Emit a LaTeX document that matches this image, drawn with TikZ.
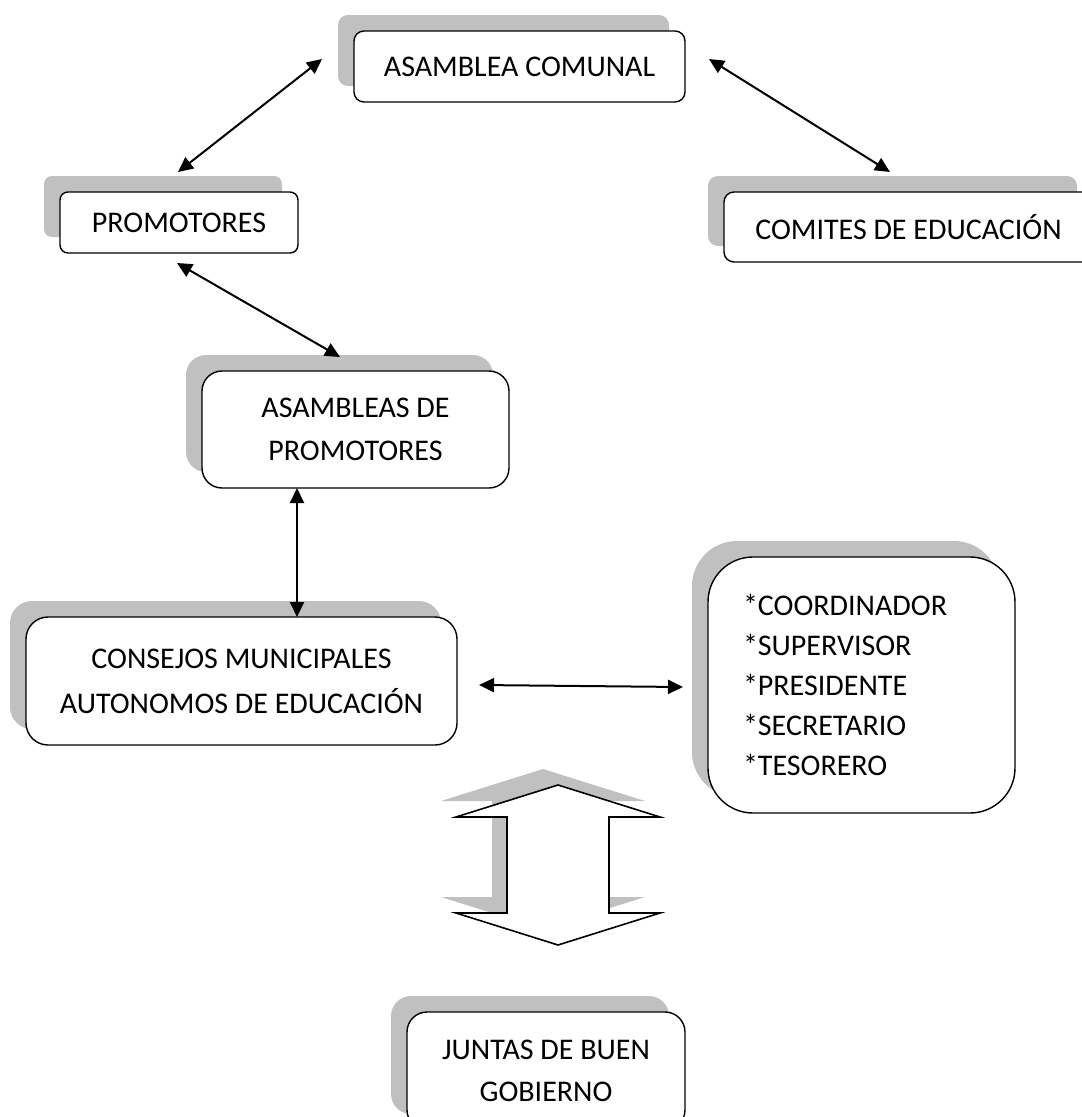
\documentclass[tikz,border=0pt]{standalone}
\usepackage{fontspec}
\setmainfont{Carlito}
\usetikzlibrary{arrows.meta,shadows}
\definecolor{shadowgray}{RGB}{192,192,192}
\begin{document}
\begin{tikzpicture}[x=1pt,y=-1pt,
  box/.style={draw=black, line width=1.4pt, fill=white, rounded corners=#1,
    align=center, inner sep=0pt,
    font=\fontsize{30}{43}\selectfont,
    copy shadow={shadow xshift=-16pt, shadow yshift=16pt, fill=shadowgray, draw=none, opacity=1}},
  box/.default=10pt,
  biarrow/.style={{Triangle[length=15pt,width=14pt]}-{Triangle[length=15pt,width=14pt]}, line width=2pt},
]
\useasboundingbox (0,0) rectangle (1082,1117);

% boxes
\node[box=10pt, minimum width=331pt, minimum height=71pt] (ac) at (519.5,66.5) {ASAMBLEA COMUNAL};
\node[box=8pt, minimum width=238pt, minimum height=61pt] (prom) at (179,222.5) {PROMOTORES};
\node[box=10pt, minimum width=369pt, minimum height=70pt] (com) at (908.5,227) {COMITES DE EDUCACIÓN};
\node[box=20pt, minimum width=307pt, minimum height=117pt] (asp) at (355.5,429.5) {ASAMBLEAS DE\\PROMOTORES};
\node[box=22pt, minimum width=431pt, minimum height=128pt, font=\fontsize{30}{45}\selectfont] (cons) at (241.5,681) {CONSEJOS MUNICIPALES\\AUTONOMOS DE EDUCACIÓN};
\node[box=45pt, minimum height=256pt, text width=237pt, inner xsep=35pt, align=left,
      font=\fontsize{30}{40}\selectfont] (cargos) at (861.5,685)
  {*COORDINADOR\\{}*SUPERVISOR\\{}*PRESIDENTE\\{}*SECRETARIO\\{}*TESORERO};
\node[box=20pt, minimum width=278pt, minimum height=118pt, font=\fontsize{30}{42}\selectfont] (jbg) at (546,1071) {JUNTAS DE BUEN\\GOBIERNO};

% arrow end points
\coordinate (ac-l) at (322,59);
\coordinate (prom-t) at (178,172);
\coordinate (ac-r) at (709,59);
\coordinate (com-t) at (890,172);
\coordinate (prom-b) at (177,263);
\coordinate (asp-t) at (340,357);
\coordinate (asp-b) at (297,488);
\coordinate (cons-t) at (297,617);
\coordinate (cons-r) at (479,685);
\coordinate (cargos-l) at (683,687);

\draw[biarrow] (ac-l) -- (prom-t);
\draw[biarrow] (ac-r) -- (com-t);
\draw[biarrow] (prom-b) -- (asp-t);
\draw[biarrow] (asp-b) -- (cons-t);
\draw[biarrow] (cons-r) -- (cargos-l);

% big double arrow (with shadow)
\fill[shadowgray, shift={(-15,-16)}]
  (558,785) -- (660,817) -- (609,817) -- (609,913) -- (660,913) -- (558,945)
  -- (456,913) -- (507,913) -- (507,817) -- (456,817) -- cycle;
\draw[fill=white, line width=1.6pt, line join=miter]
  (558,785) -- (660,817) -- (609,817) -- (609,913) -- (660,913) -- (558,945)
  -- (456,913) -- (507,913) -- (507,817) -- (456,817) -- cycle;
\end{tikzpicture}
\end{document}
